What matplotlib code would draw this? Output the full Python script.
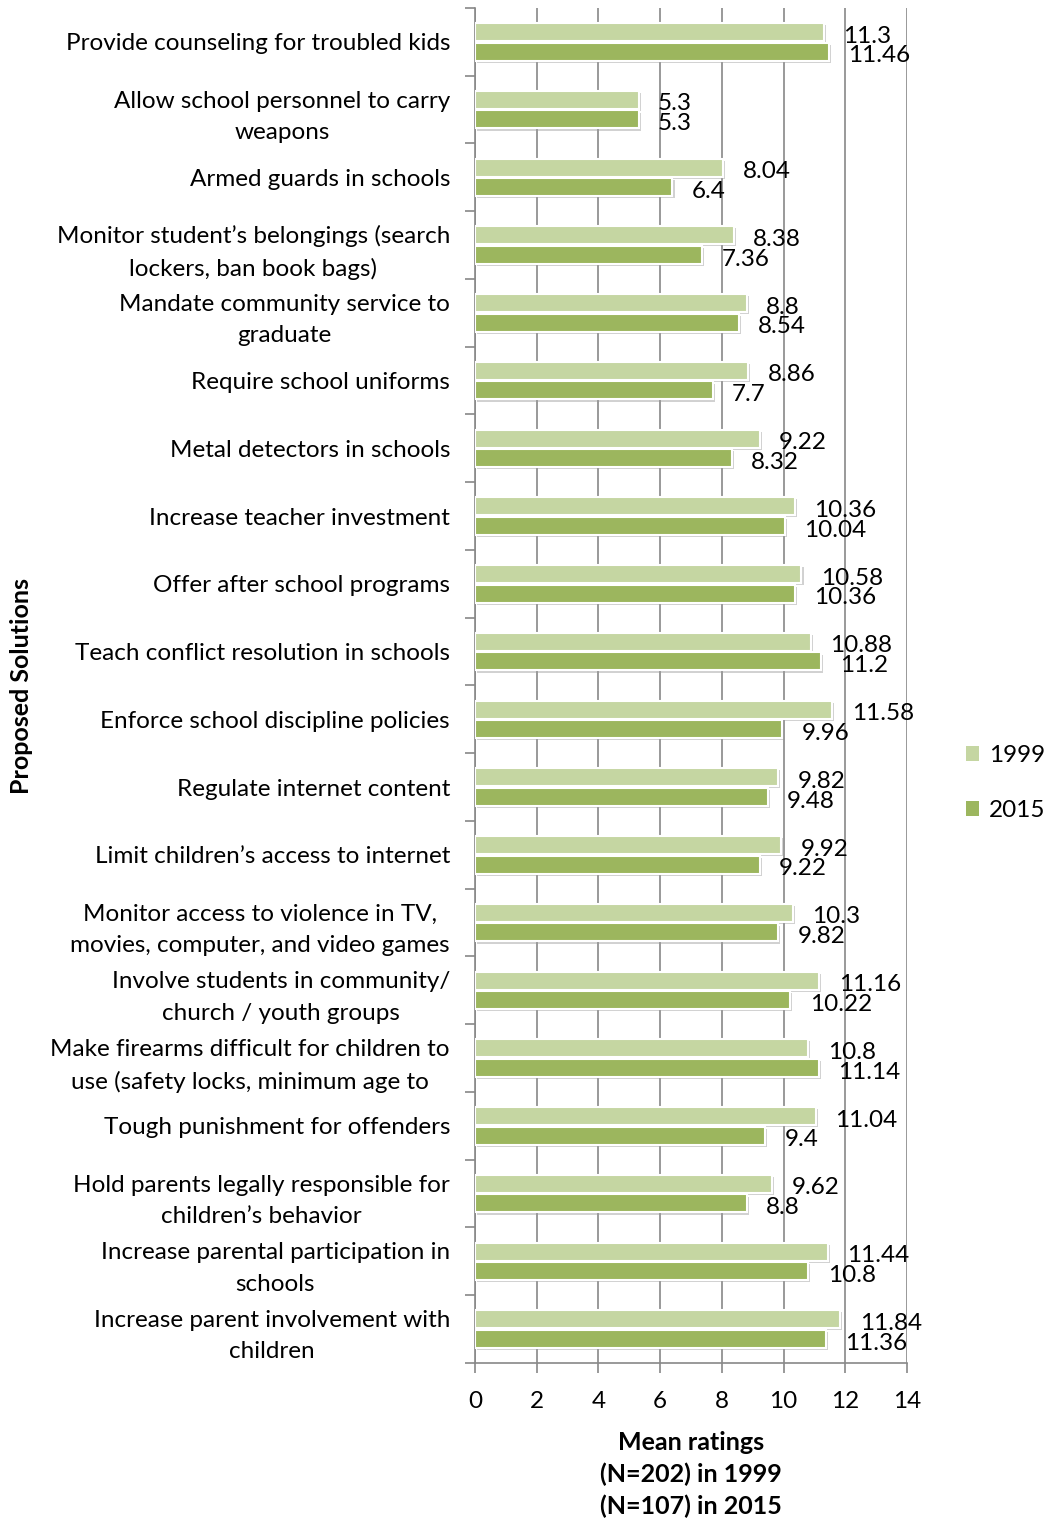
import matplotlib
matplotlib.use("Agg")
import matplotlib.pyplot as plt
import matplotlib.patheffects as pe
import numpy as np

plt.rcParams['font.family'] = ['Lato', 'DejaVu Sans']

categories = [
    "Provide counseling for troubled kids",
    "Allow school personnel to carry\nweapons",
    "Armed guards in schools",
    "Monitor student\u2019s belongings (search\nlockers, ban book bags)",
    "Mandate community service to\ngraduate",
    "Require school uniforms",
    "Metal detectors in schools",
    "Increase teacher investment",
    "Offer after school programs",
    "Teach conflict resolution in schools",
    "Enforce school discipline policies",
    "Regulate internet content",
    "Limit children\u2019s access to internet",
    "Monitor access to violence in TV,\nmovies, computer, and video games",
    "Involve students in community/\nchurch / youth groups",
    "Make firearms difficult for children to\nuse (safety locks, minimum age to",
    "Tough punishment for offenders",
    "Hold parents legally responsible for\nchildren\u2019s behavior",
    "Increase parental participation in\nschools",
    "Increase parent involvement with\nchildren",
]
values_1999 = [11.3, 5.3, 8.04, 8.38, 8.8, 8.86, 9.22, 10.36, 10.58, 10.88,
               11.58, 9.82, 9.92, 10.3, 11.16, 10.8, 11.04, 9.62, 11.44, 11.84]
values_2015 = [11.46, 5.3, 6.4, 7.36, 8.54, 7.7, 8.32, 10.04, 10.36, 11.2,
               9.96, 9.48, 9.22, 9.82, 10.22, 11.14, 9.4, 8.8, 10.8, 11.36]
series_names = ["1999", "2015"]
x_ticks = [0, 2, 4, 6, 8, 10, 12, 14]

c1999 = "#C5D6A2"
c2015 = "#9CB65E"
grid_c = "#888888"
fs = 17.5

fig = plt.figure(figsize=(10.48, 15.22), dpi=100)
ax = fig.add_axes([475/1048, 1 - 1363/1522, 432/1048, (1363-8)/1522])

n = len(categories)
y = np.arange(n)
h = 0.265
shadow = [pe.SimplePatchShadow(offset=(1.5, -1.5), shadow_rgbFace='#999999', alpha=0.45), pe.Normal()]
b1 = ax.barh(y - 0.145, values_1999, height=h, color=c1999, edgecolor='white', linewidth=1.5,
             label=series_names[0], zorder=3)
b2 = ax.barh(y + 0.145, values_2015, height=h, color=c2015, edgecolor='white', linewidth=1.5,
             label=series_names[1], zorder=3)
for b in list(b1) + list(b2):
    b.set_path_effects(shadow)

for yi, v in zip(y, values_1999):
    ax.annotate(f"{v:g}", (v, yi - 0.145), xytext=(14, -3), textcoords='offset points',
                ha='left', va='center', fontsize=fs, color='black', zorder=4)
for yi, v in zip(y, values_2015):
    ax.annotate(f"{v:g}", (v, yi + 0.145), xytext=(14, -3), textcoords='offset points',
                ha='left', va='center', fontsize=fs, color='black', zorder=4)

ax.set_xlim(0, 14)
ax.set_ylim(n - 0.5, -0.5)
ax.set_xticks(x_ticks)
ax.set_xticklabels([str(t) for t in x_ticks], fontsize=fs)
ax.set_yticks(y)
ax.set_yticklabels(categories, fontsize=fs, multialignment='center', linespacing=1.6)
ax.tick_params(axis='y', length=0, pad=18)
ax.set_yticks(np.arange(-0.5, n, 1), minor=True)
ax.tick_params(axis='y', which='minor', length=7, color=grid_c, width=1.2, direction='out')
ax.tick_params(axis='x', length=7, color=grid_c, width=1.2, direction='out', pad=13)
ax.grid(axis='x', color=grid_c, linewidth=1.2, zorder=0)
ax.set_axisbelow(True)
for s in ['top', 'right']:
    ax.spines[s].set_visible(False)
for s in ['left', 'bottom']:
    ax.spines[s].set_color(grid_c)
    ax.spines[s].set_linewidth(1.2)

ax.set_xlabel("Mean ratings\n(N=202) in 1999\n(N=107) in 2015", fontsize=18,
              fontweight='bold', linespacing=1.42, labelpad=14)
fig.text(22/1048, 1 - 686/1522, "Proposed Solutions", rotation=90, fontsize=18,
         fontweight='bold', ha='center', va='center')

leg = fig.legend(handles=[b1, b2], labels=series_names, loc='center left',
                 bbox_to_anchor=(966/1048, 1 - 783/1522), frameon=False, fontsize=fs,
                 handlelength=0.55, handleheight=0.55, handletextpad=0.4, labelspacing=1.4,
                 borderpad=0, borderaxespad=0)
for p in leg.get_patches():
    p.set_path_effects([])
    p.set_edgecolor('none')

fig.savefig("out.png", dpi=100)
